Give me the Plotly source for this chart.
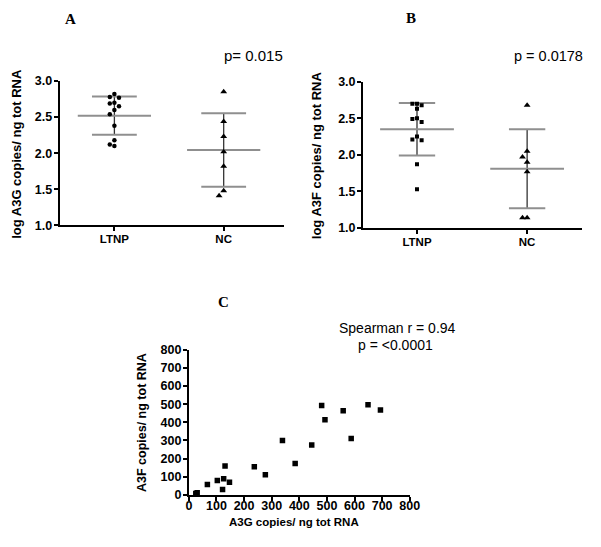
import plotly.graph_objects as go

# ---------------- data ----------------
groups = ["LTNP", "NC"]

# Panel A: log A3G copies / ng tot RNA
a_ltnp = [2.82, 2.78, 2.77, 2.70, 2.69, 2.65, 2.60, 2.54, 2.38, 2.18, 2.12, 2.10]
a_nc = [2.85, 2.44, 2.23, 2.02, 1.82, 1.48, 1.41]
a_mean = [2.52, 2.045]
a_sd = [0.265, 0.51]

# Panel B: log A3F copies / ng tot RNA
b_ltnp = [2.70, 2.70, 2.68, 2.63, 2.50, 2.49, 2.45, 2.25, 2.21, 2.20, 1.87, 1.53]
b_nc = [2.68, 2.05, 1.97, 1.90, 1.77, 1.14, 1.14]
b_mean = [2.35, 1.81]
b_sd = [0.36, 0.54]

# Panel C: A3G vs A3F copies / ng tot RNA
c_a3g = [25, 30, 67, 103, 122, 126, 131, 147, 237, 277, 339, 385, 445, 481, 493, 559, 588, 649, 694]
c_a3f = [8, 12, 57, 79, 30, 89, 159, 70, 155, 111, 300, 173, 275, 493, 414, 464, 311, 496, 468]

y_ticks_ab = [1.0, 1.5, 2.0, 2.5, 3.0]
c_ticks = [0, 100, 200, 300, 400, 500, 600, 700, 800]

W, H = 601, 547


def px(x):
    return x / W


def py(y):
    return 1 - y / H


def swarm(vals, px_per_unit, thr_px, step):
    order = sorted(range(len(vals)), key=lambda i: -vals[i])
    placed = []
    offs = [0.0] * len(vals)
    for i in order:
        chosen = 0
        for slot in [0, -1, 1, -2, 2]:
            ok = all(not (s == slot and abs(vals[i] - v) * px_per_unit < thr_px) for s, v in placed)
            if ok:
                chosen = slot
                break
        placed.append((chosen, vals[i]))
        offs[i] = chosen * step
    return offs


fig = go.Figure()

GRAY = "#8f8f8f"
DARK = "#333333"


def add_group_panel(xa, ya, ltnp, nc, means, sds, ltnp_symbol, ltnp_size, ppu, cap_hw):
    mx, my, cx, cy, vx, vy = [], [], [], [], [], []
    for i, (m, s) in enumerate(zip(means, sds)):
        mx += [i - 0.335, i + 0.335, None]
        my += [m, m, None]
        cx += [i - cap_hw, i + cap_hw, None, i - cap_hw, i + cap_hw, None]
        cy += [m + s, m + s, None, m - s, m - s, None]
        vx += [i, i, None]
        vy += [m - s, m + s, None]
    fig.add_trace(go.Scatter(x=vx, y=vy, mode="lines", line=dict(color=DARK, width=1.3),
                             xaxis=xa, yaxis=ya, showlegend=False, hoverinfo="skip"))
    fig.add_trace(go.Scatter(x=mx + cx, y=my + cy, mode="lines", line=dict(color=GRAY, width=2),
                             xaxis=xa, yaxis=ya, showlegend=False, hoverinfo="skip"))
    step = 0.042
    o1 = swarm(ltnp, ppu, 5, step)
    o2 = swarm(nc, ppu, 6, step)
    fig.add_trace(go.Scatter(x=[0 + o for o in o1], y=ltnp, mode="markers",
                             marker=dict(symbol=ltnp_symbol, size=ltnp_size, color="black"),
                             xaxis=xa, yaxis=ya, showlegend=False))
    fig.add_trace(go.Scatter(x=[1 + o for o in o2], y=nc, mode="markers",
                             marker=dict(symbol="triangle-up", size=6, color="black"),
                             xaxis=xa, yaxis=ya, showlegend=False))


add_group_panel("x", "y", a_ltnp, a_nc, a_mean, a_sd, "circle", 4.5, 74, 0.205)
add_group_panel("x2", "y2", b_ltnp, b_nc, b_mean, b_sd, "square", 4, 75, 0.165)

fig.add_trace(go.Scatter(x=c_a3g, y=c_a3f, mode="markers",
                         marker=dict(symbol="square", size=5.5, color="black"),
                         xaxis="x3", yaxis="y3", showlegend=False))

num_font = dict(family="Liberation Sans, Arial", size=12.5, color="black", weight="bold")
cat_font = dict(family="Liberation Sans, Arial", size=11.5, color="black", weight="bold")
axis_common = dict(showline=True, linecolor="black", linewidth=2, ticks="outside",
                   ticklen=4, tickwidth=2, tickcolor="black", showgrid=False,
                   zeroline=False, fixedrange=True)

fig.update_layout(
    width=W, height=H,
    margin=dict(l=0, r=0, t=0, b=0),
    paper_bgcolor="white", plot_bgcolor="white",
    xaxis=dict(domain=[px(58), px(287)], anchor="y", range=[-0.5, 1.55], tickfont=cat_font,
               ticklabelstandoff=-2,
               tickmode="array", tickvals=list(range(len(groups))), ticktext=groups, **axis_common),
    yaxis=dict(domain=[py(224), py(76)], anchor="x", range=[1, 3], tickfont=num_font,
               ticklabelstandoff=-1,
               tickmode="array", tickvals=y_ticks_ab, tickformat=".1f", **axis_common),
    xaxis2=dict(domain=[px(368), px(592)], anchor="y2", range=[-0.49, 1.5], tickfont=cat_font,
                ticklabelstandoff=-2,
                tickmode="array", tickvals=list(range(len(groups))), ticktext=groups, **axis_common),
    yaxis2=dict(domain=[py(226.7), py(76.7)], anchor="x2", range=[1, 3], tickfont=num_font,
                ticklabelstandoff=-1,
                tickmode="array", tickvals=y_ticks_ab, tickformat=".1f", **axis_common),
    xaxis3=dict(domain=[px(190), px(415.7)], anchor="y3", range=[0, 800], tickfont=num_font,
                ticklabelstandoff=-6,
                tickmode="array", tickvals=c_ticks, **axis_common),
    yaxis3=dict(domain=[py(500.7), py(351.7)], anchor="x3", range=[0, 800], tickfont=num_font,
                ticklabelstandoff=-1,
                tickmode="array", tickvals=c_ticks, **axis_common),
)

serif = "Liberation Serif, Times New Roman"
sans = "Liberation Sans, Arial"
ann = [
    dict(text="<b>A</b>", x=px(69), y=py(12), font=dict(family=serif, size=15)),
    dict(text="<b>B</b>", x=px(417), y=py(11), font=dict(family=serif, size=15)),
    dict(text="<b>C</b>", x=px(225), y=py(303), font=dict(family=serif, size=15)),
    dict(text="p= 0.015", x=px(256), y=py(50), font=dict(family=sans, size=15)),
    dict(text="p = 0.0178", x=px(595), y=py(50), xanchor="right", font=dict(family=sans, size=14.5)),
    dict(text="Spearman r = 0.94", x=px(403), y=py(329), font=dict(family=sans, size=14)),
    dict(text="p = <0.0001", x=px(401), y=py(347), font=dict(family=sans, size=14)),
    dict(text="<b>log A3G copies/ ng tot RNA</b>", x=px(13), y=py(151), textangle=-90,
         font=dict(family=sans, size=13)),
    dict(text="<b>log A3F copies/ ng tot RNA</b>", x=px(320), y=py(152), textangle=-90,
         font=dict(family=sans, size=13)),
    dict(text="<b>A3F copies/ ng tot RNA</b>", x=px(142), y=py(426), textangle=-90,
         font=dict(family=sans, size=12.5)),
    dict(text="<b>A3G copies/ ng tot RNA</b>", x=px(297), y=py(529),
         font=dict(family=sans, size=11.5)),
]
for a in ann:
    a.setdefault("xanchor", "center")
    a.update(xref="paper", yref="paper", showarrow=False, yanchor="middle")
    a["font"]["color"] = "black"
fig.update_layout(annotations=ann)

fig.write_html(
    "out.html",
    config={"displayModeBar": False},
    post_script="document.body.style.margin='0';document.body.style.overflow='hidden';",
)
